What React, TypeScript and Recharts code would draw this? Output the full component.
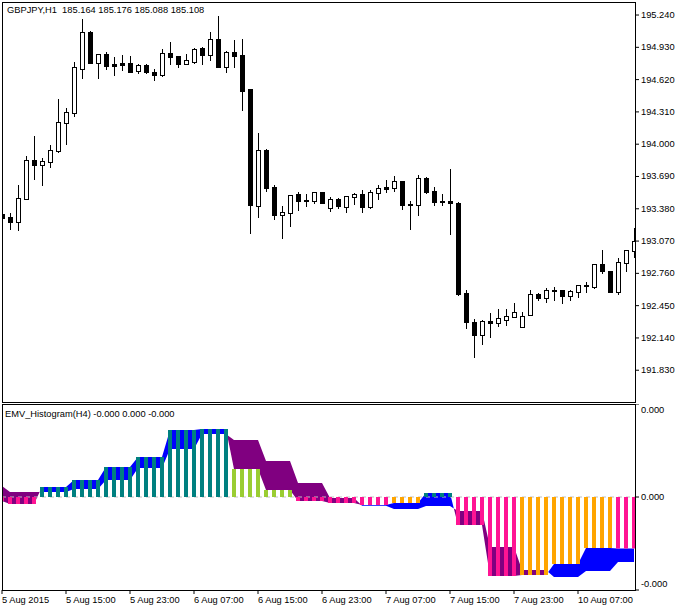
import { Area, Bar, Cell, ComposedChart, ReferenceLine, XAxis, YAxis } from "recharts";

const FONT = "'Liberation Sans', Arial, sans-serif";
const FONT_SIZE = 9.3;

// GBPJPY H1 candles
const opens = [
	193.33, 193.301, 193.256, 193.477, 193.848, 193.803, 193.832, 193.938, 194.206, 194.302,
	194.718, 195.074, 194.782, 194.862, 194.77, 194.779, 194.779, 194.699, 194.76, 194.693,
	194.667, 194.875, 194.846, 194.773, 194.789, 194.923, 194.859, 195.01, 194.744, 194.885,
	194.856, 194.53, 193.406, 193.944, 193.589, 193.32, 193.342, 193.522, 193.464, 193.454,
	193.541, 193.387, 193.474, 193.397, 193.496, 193.522, 193.394, 193.534, 193.589, 193.579,
	193.646, 193.426, 193.416, 193.675, 193.55, 193.454, 193.454, 193.435, 192.568, 192.29,
	192.171, 192.299, 192.286, 192.315, 192.344, 192.248, 192.363, 192.562, 192.526, 192.603,
	192.6, 192.546, 192.584, 192.648, 192.632, 192.85, 192.782, 192.581, 192.862, 192.978,
];
const highs = [
	193.368, 193.349, 193.618, 193.896, 194.088, 193.877, 194.002, 194.443, 194.357, 194.798,
	195.211, 195.096, 194.875, 194.894, 194.846, 194.866, 194.856, 194.779, 194.779, 194.731,
	194.923, 194.99, 194.856, 194.875, 194.933, 194.942, 195.086, 195.24, 194.904, 195.01,
	195.019, 194.53, 194.117, 193.963, 193.618, 193.416, 193.512, 193.55, 193.531, 193.541,
	193.55, 193.502, 193.493, 193.512, 193.541, 193.57, 193.57, 193.618, 193.666, 193.704,
	193.656, 193.464, 193.714, 193.694, 193.598, 193.531, 193.771, 193.454, 192.61, 192.331,
	192.322, 192.389, 192.427, 192.427, 192.485, 192.398, 192.61, 192.581, 192.629, 192.638,
	192.61, 192.61, 192.658, 192.686, 192.846, 192.994, 192.792, 192.917, 192.981, 193.205,
];
const lows = [
	193.256, 193.186, 193.176, 193.477, 193.666, 193.608, 193.781, 193.928, 194.002, 194.27,
	194.635, 194.782, 194.635, 194.722, 194.664, 194.712, 194.693, 194.683, 194.683, 194.616,
	194.654, 194.77, 194.741, 194.77, 194.779, 194.77, 194.808, 194.741, 194.693, 194.741,
	194.328, 193.147, 193.301, 193.55, 193.282, 193.099, 193.214, 193.368, 193.406, 193.435,
	193.435, 193.358, 193.387, 193.349, 193.426, 193.349, 193.387, 193.474, 193.541, 193.55,
	193.378, 193.186, 193.32, 193.531, 193.416, 193.416, 193.138, 192.552, 192.235, 191.957,
	192.082, 192.149, 192.254, 192.264, 192.341, 192.248, 192.363, 192.504, 192.485, 192.504,
	192.475, 192.504, 192.533, 192.581, 192.619, 192.763, 192.581, 192.562, 192.782, 192.917,
];
const closes = [
	193.291, 193.253, 193.483, 193.845, 193.8, 193.835, 193.941, 194.21, 194.306, 194.738,
	195.074, 194.782, 194.866, 194.75, 194.75, 194.76, 194.693, 194.76, 194.693, 194.664,
	194.875, 194.837, 194.77, 194.805, 194.914, 194.856, 195.006, 194.741, 194.885, 194.846,
	194.51, 193.416, 193.941, 193.579, 193.32, 193.349, 193.512, 193.454, 193.454, 193.541,
	193.435, 193.474, 193.406, 193.502, 193.522, 193.397, 193.541, 193.579, 193.57, 193.646,
	193.416, 193.416, 193.675, 193.541, 193.445, 193.445, 193.432, 192.562, 192.296, 192.168,
	192.299, 192.286, 192.328, 192.347, 192.386, 192.347, 192.558, 192.523, 192.597, 192.594,
	192.542, 192.587, 192.645, 192.635, 192.846, 192.782, 192.581, 192.866, 192.981, 193.067,
];

// EMV histogram and its signal, in millionths
const emvValues = [
	-4, -7, -7, -7, -7, 10, 10, 10, 10, 17, 17, 17, 17, 30, 30, 30, 30, 40, 40, 40,
	40, 67, 67, 67, 67, 68, 68, 68, 68, 28, 28, 28, 28, 7, 7, 7, 7, -4, -4, -4,
	-4, -6, -6, -6, -6, -8, -8, -8, -8, -6, -6, -6, -6, 4, 4, 4, 4, -28, -28, -28,
	-28, -79, -79, -79, -79, -78, -78, -78, -78, -67, -67, -67, -67, -51, -51, -51, -51, -51.5, -51.5, -51.5,
];
const signalValues = [
	11, 5, 5, 5, 5, 5, 5, 5, 5, 8, 8, 8, 8, 17, 17, 17, 17, 29, 29, 29,
	29, 48, 48, 48, 48, 63, 63, 63, 63, 57, 57, 57, 57, 36, 36, 36, 36, 14, 14, 14,
	14, -1, -1, -1, -1, -8.7, -8.7, -8.7, -8.7, -12, -12, -12, -12, -9, -9, -9, -9, -14, -14, -14,
	-14, -50, -50, -50, -50, -73, -73, -73, -73, -80, -80, -80, -80, -74, -74, -74, -74, -65, -65, -65,
];

const priceTicks = [195.24, 194.93, 194.62, 194.31, 194.0, 193.69, 193.38, 193.07, 192.76, 192.45, 192.14, 191.83];
const emvTicks = [93, 0, -93];
const timeLabels = [
	"5 Aug 2015", "5 Aug 15:00", "5 Aug 23:00", "6 Aug 07:00", "6 Aug 15:00",
	"6 Aug 23:00", "7 Aug 07:00", "7 Aug 15:00", "7 Aug 23:00", "10 Aug 07:00",
];
const timeTicks = timeLabels.map((_, i) => i * 8);

const candles = opens.map((open, i) => ({ x: i, open, high: highs[i], low: lows[i], close: closes[i] }));

// colour of a histogram bar follows its sign and direction, and holds while the value is flat
const barColors: string[] = [];
emvValues.forEach((v, i) => {
	const prev = i > 0 ? emvValues[i - 1] : v;
	if (i > 0 && v === prev) barColors.push(barColors[i - 1]);
	else if (v >= 0) barColors.push(v >= prev ? "#008080" : "#9ACD32");
	else barColors.push(v <= prev ? "#FF1493" : "#FFA500");
});

const emvRows = emvValues.map((emv, i) => ({ x: i, emv, color: barColors[i] }));

// rows for the filling: where the two lines cross the colour changes, so a row is added at the crossing
const cloudRows: any[] = [];
emvValues.forEach((v, i) => {
	const s = signalValues[i];
	const up = v >= s;
	cloudRows.push({ x: i, blue: up ? [s, v] : null, purple: up ? null : [v, s] });
	if (i < emvValues.length - 1) {
		const nv = emvValues[i + 1];
		const ns = signalValues[i + 1];
		if (up !== nv >= ns) {
			const t = (s - v) / (nv - v - (ns - s));
			const c = v + (nv - v) * t;
			cloudRows.push({ x: i + t, blue: [c, c], purple: [c, c] });
		}
	}
});

const CandleShape = (props: any) => {
	const { x, y, width, height, payload } = props;
	const { open, high, low, close } = payload;
	const yOf = (p: number) => Math.round(y + ((high - p) / (high - low)) * height) + 0.5;
	const cx = Math.floor(x + width / 2) + 0.5;
	const up = close >= open;
	const top = yOf(Math.max(open, close));
	const bottom = yOf(Math.min(open, close));
	return (
		<g shapeRendering="crispEdges">
			<line x1={cx} x2={cx} y1={yOf(high)} y2={yOf(low)} stroke="#000" />
			<rect x={cx - 2} y={top} width={4} height={Math.max(bottom - top, 1)} fill={up ? "#fff" : "#000"} stroke="#000" />
		</g>
	);
};

const PriceTick = (props: any) => {
	const { x, y, payload } = props;
	return (
		<text x={x} y={y + 3} fontFamily={FONT} fontSize={FONT_SIZE} fill="#000">
			{payload.value.toFixed(3)}
		</text>
	);
};

const EmvTick = (props: any) => {
	const { x, y, payload } = props;
	// the first and last labels stay inside the panel
	const shift = payload.value > 0 ? 5.5 : payload.value < 0 ? -6 : 0;
	return (
		<text x={x} y={y + 3 + shift} fontFamily={FONT} fontSize={FONT_SIZE} fill="#000">
			{(payload.value / 1000000).toFixed(3)}
		</text>
	);
};

const TimeTick = (props: any) => {
	const { x, y, payload } = props;
	return (
		<text x={x} y={y + 9} fontFamily={FONT} fontSize={FONT_SIZE} fill="#000" textAnchor="start">
			{timeLabels[payload.value / 8]}
		</text>
	);
};

const titleStyle = {
	position: "absolute",
	fontFamily: FONT,
	fontSize: FONT_SIZE,
	lineHeight: "12px",
	whiteSpace: "pre",
	color: "#000",
} as const;

const frameStyle = {
	position: "absolute",
	left: 2,
	width: 634,
	boxSizing: "border-box",
	border: "1px solid #000",
	pointerEvents: "none",
} as const;

const layer = { position: "absolute", left: 0 } as const;

const App = () => {
	return (
		<div style={{ position: "absolute", left: 0, top: 0, width: 687, height: 610, background: "#fff", overflow: "hidden" }}>
			<div style={{ ...layer, top: 0 }}>
				<ComposedChart width={687} height={403} data={candles} margin={{ top: 2, right: 0, bottom: 1, left: 2 }}>
					<XAxis dataKey="x" type="number" domain={[0, 79.125]} allowDataOverflow hide />
					<YAxis
						orientation="right"
						width={52}
						domain={[191.525, 195.365]}
						ticks={priceTicks}
						interval={0}
						axisLine={false}
						tickLine={{ stroke: "#000" }}
						tickSize={4}
						tickMargin={2}
						tick={<PriceTick />}
					/>
					<Bar dataKey={(r: any) => [r.low, r.high]} barSize={6} shape={<CandleShape />} isAnimationActive={false} />
				</ComposedChart>
			</div>
			{/* the filling sits in its own chart under the histogram */}
			<div style={{ ...layer, top: 404 }}>
				<ComposedChart width={687} height={206} data={cloudRows} margin={{ top: 0, right: 52, bottom: 20, left: 2 }}>
					<XAxis dataKey="x" type="number" domain={[0, 79.125]} allowDataOverflow hide />
					<YAxis domain={[-93, 93]} hide />
					<Area dataKey="blue" type="linear" stroke="none" fill="#0000FF" fillOpacity={1} isAnimationActive={false} />
					<Area dataKey="purple" type="linear" stroke="none" fill="#800080" fillOpacity={1} isAnimationActive={false} />
					<ReferenceLine y={0} stroke="#C0C0C0" strokeDasharray="4 4" />
				</ComposedChart>
			</div>
			<div style={{ ...layer, top: 404 }}>
				<ComposedChart width={687} height={206} data={emvRows} margin={{ top: 0, right: 0, bottom: 0, left: 2 }}>
					<XAxis
						dataKey="x"
						type="number"
						domain={[0, 79.125]}
						allowDataOverflow
						ticks={timeTicks}
						interval={0}
						height={20}
						axisLine={false}
						tickLine={{ stroke: "#000" }}
						tickSize={4}
						tickMargin={0}
						tick={<TimeTick />}
					/>
					<YAxis
						orientation="right"
						width={52}
						domain={[-93, 93]}
						ticks={emvTicks}
						interval={0}
						axisLine={false}
						tickLine={{ stroke: "#000" }}
						tickSize={4}
						tickMargin={2}
						tick={<EmvTick />}
					/>
					<Bar dataKey="emv" barSize={4} isAnimationActive={false}>
						{emvRows.map((r, i) => (
							<Cell key={i} fill={r.color} />
						))}
					</Bar>
				</ComposedChart>
			</div>
			<div style={{ ...frameStyle, top: 2, height: 401 }} />
			<div style={{ ...frameStyle, top: 404, height: 187 }} />
			<div style={{ ...titleStyle, left: 7, top: 4 }}>GBPJPY,H1  185.164 185.176 185.088 185.108</div>
			<div style={{ ...titleStyle, left: 5, top: 408 }}>EMV_Histogram(H4) -0.000 0.000 -0.000</div>
		</div>
	);
};

export default App;
